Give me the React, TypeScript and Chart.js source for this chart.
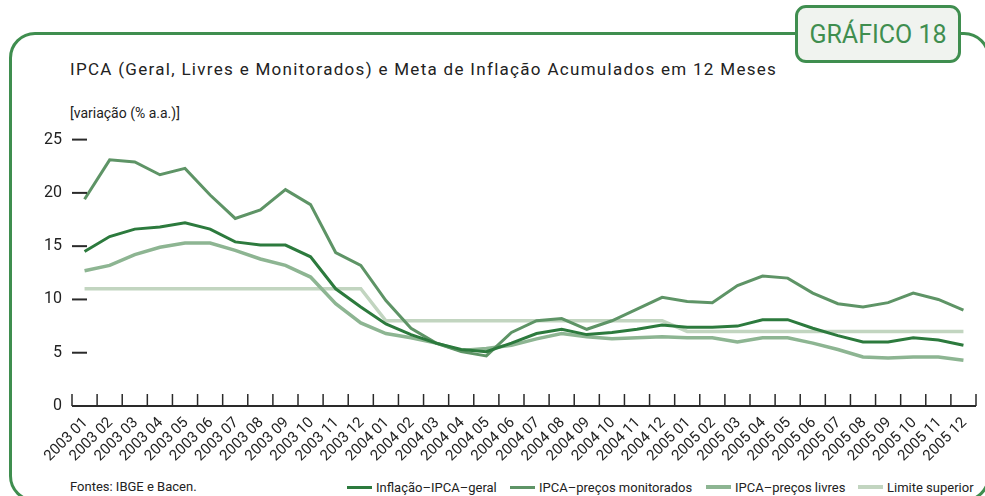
import React, { useEffect, useRef } from "react";
import { Chart, registerables } from "chart.js";

Chart.register(...registerables);

const months = [
  "2003 01", "2003 02", "2003 03", "2003 04", "2003 05", "2003 06",
  "2003 07", "2003 08", "2003 09", "2003 10", "2003 11", "2003 12",
  "2004 01", "2004 02", "2004 03", "2004 04", "2004 05", "2004 06",
  "2004 07", "2004 08", "2004 09", "2004 10", "2004 11", "2004 12",
  "2005 01", "2005 02", "2005 03", "2005 04", "2005 05", "2005 06",
  "2005 07", "2005 08", "2005 09", "2005 10", "2005 11", "2005 12",
];

const geral = [
  14.5, 15.9, 16.6, 16.8, 17.2, 16.6, 15.4, 15.1, 15.1, 14.0, 11.0, 9.3,
  7.7, 6.7, 5.9, 5.3, 5.1, 5.9, 6.8, 7.2, 6.7, 6.9, 7.2, 7.6,
  7.4, 7.4, 7.5, 8.1, 8.1, 7.3, 6.6, 6.0, 6.0, 6.4, 6.2, 5.7,
];

const monitorados = [
  19.4, 23.1, 22.9, 21.7, 22.3, 19.8, 17.6, 18.4, 20.3, 18.9, 14.4, 13.2,
  9.9, 7.3, 5.9, 5.1, 4.7, 6.9, 8.0, 8.2, 7.2, 8.0, 9.1, 10.2,
  9.8, 9.7, 11.3, 12.2, 12.0, 10.6, 9.6, 9.3, 9.7, 10.6, 10.0, 9.0,
];

const livres = [
  12.7, 13.2, 14.2, 14.9, 15.3, 15.3, 14.6, 13.8, 13.2, 12.1, 9.6, 7.8,
  6.8, 6.4, 5.9, 5.2, 5.4, 5.7, 6.3, 6.8, 6.5, 6.3, 6.4, 6.5,
  6.4, 6.4, 6.0, 6.4, 6.4, 5.9, 5.3, 4.6, 4.5, 4.6, 4.6, 4.3,
];

const limiteSuperior = [
  11, 11, 11, 11, 11, 11, 11, 11, 11, 11, 11, 11,
  8, 8, 8, 8, 8, 8, 8, 8, 8, 8, 8, 8,
  7, 7, 7, 7, 7, 7, 7, 7, 7, 7, 7, 7,
];

const yTicks = [0, 5, 10, 15, 20, 25];

const seriesNames = [
  "Inflação–IPCA–geral",
  "IPCA–preços monitorados",
  "IPCA–preços livres",
  "Limite superior",
];

const seriesColors = ["#2c7a3d", "#5e9466", "#8db592", "#c2d5c0"];
const seriesWidths = [3, 3, 3.5, 3.5];

const FONT = "Roboto, 'Noto Sans', sans-serif";
const GREEN = "#3f8e4f";

const axisMarks = {
  id: "axisMarks",
  afterDatasetsDraw(chart: any) {
    const { ctx, chartArea, scales } = chart;
    const x = scales.x;
    const y = scales.y;
    const y0 = y.getPixelForValue(0);
    ctx.save();
    ctx.strokeStyle = "#2a2a2a";
    ctx.lineCap = "butt";
    ctx.lineWidth = 2;
    ctx.beginPath();
    ctx.moveTo(chartArea.left, y0);
    ctx.lineTo(chartArea.right, y0);
    ctx.stroke();
    const n = x.ticks.length;
    const half = (x.getPixelForValue(1) - x.getPixelForValue(0)) / 2;
    ctx.lineWidth = 1.5;
    for (let i = 0; i <= n; i++) {
      const px = i < n ? x.getPixelForValue(i) - half : x.getPixelForValue(n - 1) + half;
      ctx.beginPath();
      ctx.moveTo(px, y0);
      ctx.lineTo(px, y0 - 12);
      ctx.stroke();
    }
    ctx.lineWidth = 2;
    y.ticks.forEach((t: any) => {
      if (t.value === 0) return;
      const py = y.getPixelForValue(t.value);
      ctx.beginPath();
      ctx.moveTo(chartArea.left, py);
      ctx.lineTo(chartArea.left + 15, py);
      ctx.stroke();
    });
    ctx.restore();
  },
};

function ChartCanvas() {
  const ref = useRef<HTMLCanvasElement | null>(null);
  useEffect(() => {
    if (!ref.current) return;
    const seriesData = [geral, monitorados, livres, limiteSuperior];
    const chart = new Chart(ref.current, {
      type: "line",
      data: {
        labels: months,
        datasets: seriesData.map((d, i) => ({
          label: seriesNames[i],
          data: d,
          borderColor: seriesColors[i],
          backgroundColor: seriesColors[i],
          borderWidth: seriesWidths[i],
          pointRadius: 0,
          tension: 0,
          fill: false,
        })),
      },
      options: {
        responsive: false,
        animation: false,
        layout: { padding: { left: 0, right: 9, top: 15, bottom: 0 } },
        plugins: {
          legend: { display: false },
          tooltip: { enabled: false },
          title: { display: false },
        },
        scales: {
          x: {
            type: "category",
            offset: true,
            grid: { display: false, drawTicks: false },
            border: { display: false },
            ticks: {
              autoSkip: false,
              minRotation: 45,
              maxRotation: 45,
              labelOffset: 1,
              padding: 8,
              color: "#222",
              font: { family: FONT, size: 15 },
            },
            afterFit: (s: any) => {
              s.height = 64;
            },
          },
          y: {
            min: 0,
            max: 25,
            afterBuildTicks: (s: any) => {
              s.ticks = yTicks.map((v) => ({ value: v }));
            },
            grid: { display: false, drawTicks: false },
            border: { display: false },
            ticks: {
              padding: 10,
              color: "#222",
              font: { family: FONT, size: 16 },
            },
            afterFit: (s: any) => {
              s.width = 72;
            },
          },
        },
      },
      plugins: [axisMarks],
    });
    return () => chart.destroy();
  }, []);
  return (
    <canvas
      ref={ref}
      width={985}
      height={350}
      style={{ position: "absolute", left: 0, top: 120, width: 985, height: 350 }}
    />
  );
}

export default function App() {
  const legendX = [347, 510, 706, 858];
  return (
    <div
      style={{
        position: "absolute",
        left: 0,
        top: 0,
        width: 985,
        height: 496,
        overflow: "hidden",
        background: "#fff",
        fontFamily: FONT,
      }}
    >
      <div
        style={{
          position: "absolute",
          left: 9,
          top: 32,
          width: 981,
          height: 470,
          border: `3px solid ${GREEN}`,
          borderRadius: 26,
          boxSizing: "border-box",
        }}
      />
      <div
        style={{
          position: "absolute",
          left: 795,
          top: 5,
          width: 166,
          height: 58,
          border: `3px solid ${GREEN}`,
          borderRadius: 11,
          boxSizing: "border-box",
          background: "#f0f3ef",
          color: GREEN,
          fontSize: 25,
          display: "flex",
          alignItems: "center",
          justifyContent: "center",
        }}
      >
        GRÁFICO 18
      </div>
      <div
        style={{
          position: "absolute",
          left: 70,
          top: 59,
          fontSize: 17,
          letterSpacing: 1.3,
          lineHeight: "20px",
          color: "#222",
          whiteSpace: "nowrap",
        }}
      >
        IPCA (Geral, Livres e Monitorados) e Meta de Inflação Acumulados em 12 Meses
      </div>
      <div
        style={{
          position: "absolute",
          left: 70,
          top: 104,
          fontSize: 14,
          lineHeight: "18px",
          color: "#222",
          whiteSpace: "nowrap",
        }}
      >
        [variação (% a.a.)]
      </div>
      <ChartCanvas />
      <div
        style={{
          position: "absolute",
          left: 70,
          top: 478,
          fontSize: 13,
          lineHeight: "18px",
          color: "#222",
          whiteSpace: "nowrap",
        }}
      >
        Fontes: IBGE e Bacen.
      </div>
      {seriesNames.map((name, i) => (
        <div
          key={name}
          style={{
            position: "absolute",
            left: legendX[i],
            top: 478,
            height: 18,
            display: "flex",
            alignItems: "center",
            whiteSpace: "nowrap",
            fontSize: 13,
            color: "#222",
          }}
        >
          <span
            style={{
              display: "inline-block",
              width: 25,
              height: seriesWidths[i],
              background: seriesColors[i],
              marginRight: 4,
            }}
          />
          {name}
        </div>
      ))}
    </div>
  );
}
